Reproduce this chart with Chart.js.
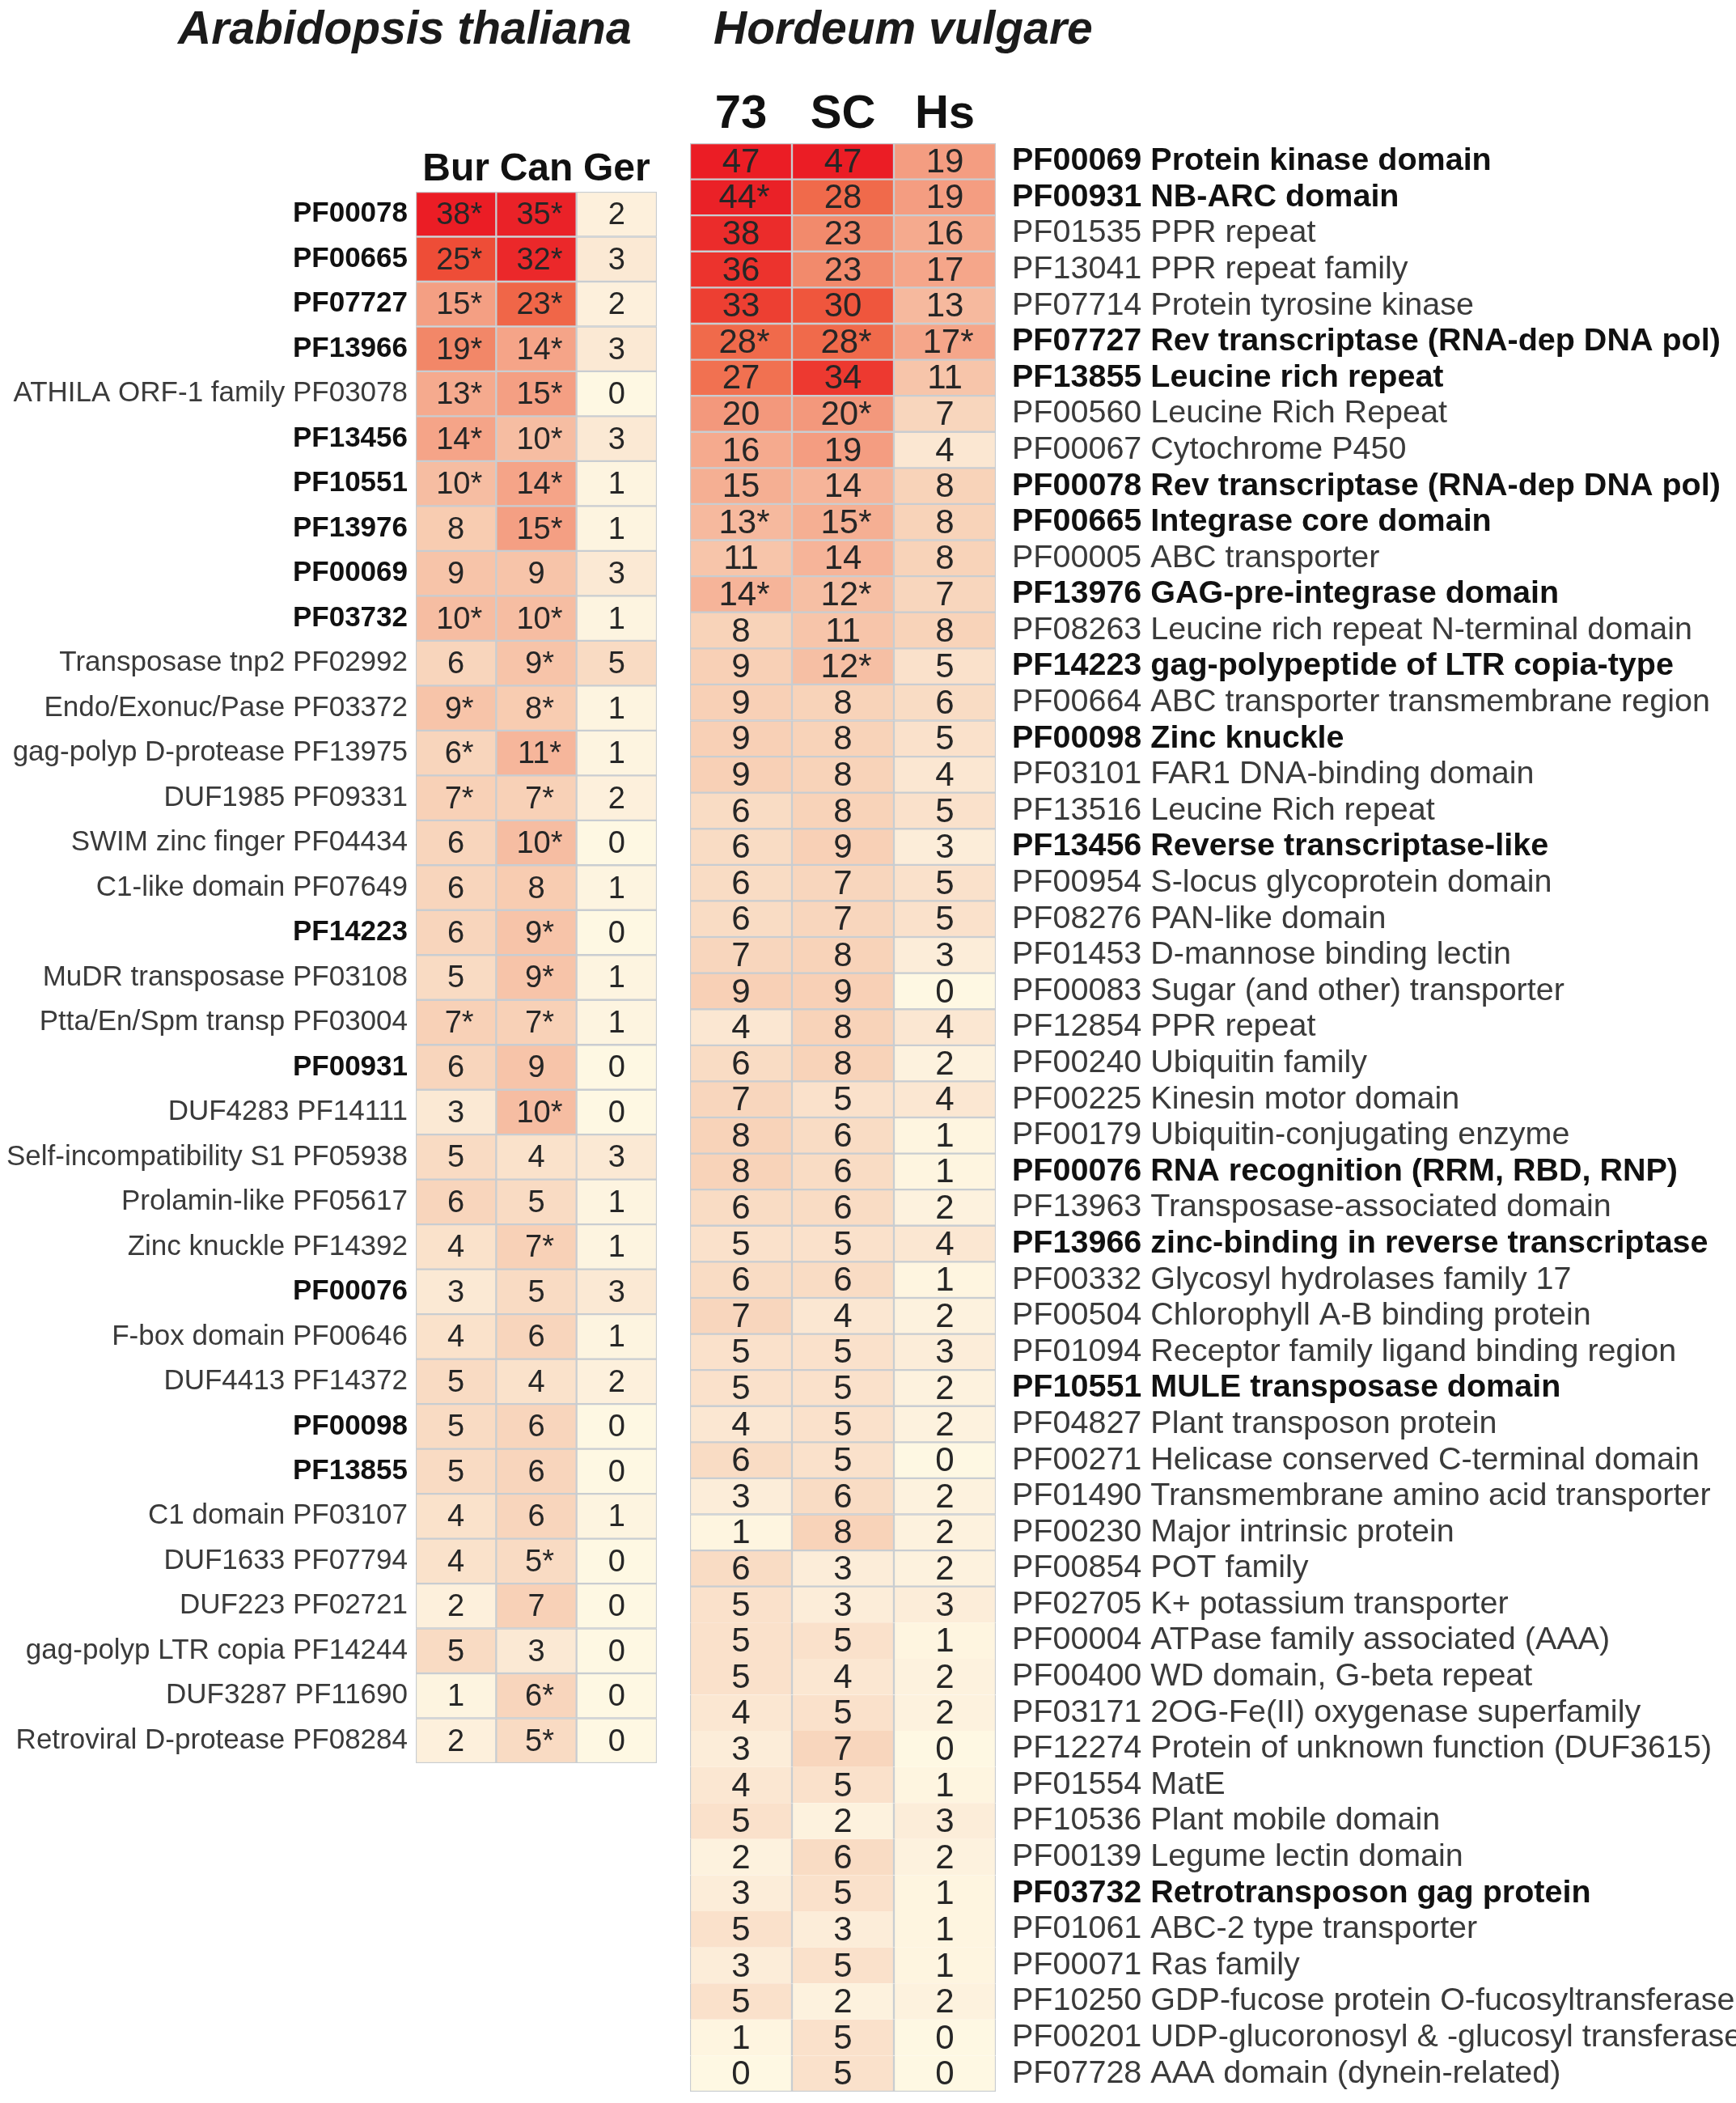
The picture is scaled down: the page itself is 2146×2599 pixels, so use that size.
<!DOCTYPE html>
<html>
<head>
<meta charset="utf-8">
<script src="https://cdn.jsdelivr.net/npm/chart.js@4.4.0/dist/chart.umd.min.js"></script>
<style>
    body { margin: 0; background: #fff; width: 2146px; height: 2599px; position: relative; overflow: hidden; }
    .title { position: absolute; top: 1px; line-height: 70px; font: italic bold 57px "Liberation Sans", Arial, sans-serif; color: #1b1b1b; white-space: nowrap; }
    #leftBox { position: absolute; left: 0; top: 150px; }
    #rightBox { position: absolute; left: 840px; top: 90px; }
</style>
</head>
<body>
<div class="title" style="left:220px">Arabidopsis thaliana</div>
<div class="title" style="left:882px">Hordeum vulgare</div>
<div id="leftBox"><canvas id="leftChart" width="830" height="2060"></canvas></div>
<div id="rightBox"><canvas id="rightChart" width="1306" height="2509"></canvas></div>

<script>
// Arabidopsis thaliana accessions
const atColumns = ['Bur', 'Can', 'Ger'];
const atLabels = [
    'PF00078', 'PF00665', 'PF07727', 'PF13966', 'ATHILA ORF-1 family PF03078',
    'PF13456', 'PF10551', 'PF13976', 'PF00069', 'PF03732',
    'Transposase tnp2 PF02992', 'Endo/Exonuc/Pase PF03372', 'gag-polyp D-protease PF13975', 'DUF1985 PF09331', 'SWIM zinc finger PF04434',
    'C1-like domain PF07649', 'PF14223', 'MuDR transposase PF03108', 'Ptta/En/Spm transp PF03004', 'PF00931',
    'DUF4283 PF14111', 'Self-incompatibility S1 PF05938', 'Prolamin-like PF05617', 'Zinc knuckle PF14392', 'PF00076',
    'F-box domain PF00646', 'DUF4413 PF14372', 'PF00098', 'PF13855', 'C1 domain PF03107',
    'DUF1633 PF07794', 'DUF223 PF02721', 'gag-polyp LTR copia PF14244', 'DUF3287 PF11690', 'Retroviral D-protease PF08284'
];
const atBold = [1,1,1,1,0, 1,1,1,1,1, 0,0,0,0,0, 0,1,0,0,1, 0,0,0,0,1, 0,0,1,1,0, 0,0,0,0,0];
const atBur = [38,25,15,19,13, 14,10,8,9,10, 6,9,6,7,6, 6,6,5,7,6, 3,5,6,4,3, 4,5,5,5,4, 4,2,5,1,2];
const atCan = [35,32,23,14,15, 10,14,15,9,10, 9,8,11,7,10, 8,9,9,7,9, 10,4,5,7,5, 6,4,6,6,6, 5,7,3,6,5];
const atGer = [2,3,2,3,0, 3,1,1,3,1, 5,1,1,2,0, 1,0,1,1,0, 0,3,1,1,3, 1,2,0,0,1, 0,0,0,0,0];
const atBurStar = [1,1,1,1,1, 1,1,0,0,1, 0,1,1,1,0, 0,0,0,1,0, 0,0,0,0,0, 0,0,0,0,0, 0,0,0,0,0];
const atCanStar = [1,1,1,1,1, 1,1,1,0,1, 1,1,1,1,1, 0,1,1,1,0, 1,0,0,1,0, 0,0,0,0,0, 1,0,0,1,1];
const atGerStar = [0,0,0,0,0, 0,0,0,0,0, 0,0,0,0,0, 0,0,0,0,0, 0,0,0,0,0, 0,0,0,0,0, 0,0,0,0,0];

// Hordeum vulgare lines
const hvColumns = ['73', 'SC', 'Hs'];
const hvLabels = [
    'PF00069 Protein kinase domain', 'PF00931 NB-ARC domain', 'PF01535 PPR repeat', 'PF13041 PPR repeat family',
    'PF07714 Protein tyrosine kinase', 'PF07727 Rev transcriptase (RNA-dep DNA pol)', 'PF13855 Leucine rich repeat',
    'PF00560 Leucine Rich Repeat', 'PF00067 Cytochrome P450', 'PF00078 Rev transcriptase (RNA-dep DNA pol)',
    'PF00665 Integrase core domain', 'PF00005 ABC transporter', 'PF13976 GAG-pre-integrase domain',
    'PF08263 Leucine rich repeat N-terminal domain', 'PF14223 gag-polypeptide of LTR copia-type',
    'PF00664 ABC transporter transmembrane region', 'PF00098 Zinc knuckle', 'PF03101 FAR1 DNA-binding domain',
    'PF13516 Leucine Rich repeat', 'PF13456 Reverse transcriptase-like', 'PF00954 S-locus glycoprotein domain',
    'PF08276 PAN-like domain', 'PF01453 D-mannose binding lectin', 'PF00083 Sugar (and other) transporter',
    'PF12854 PPR repeat', 'PF00240 Ubiquitin family', 'PF00225 Kinesin motor domain',
    'PF00179 Ubiquitin-conjugating enzyme', 'PF00076 RNA recognition (RRM, RBD, RNP)',
    'PF13963 Transposase-associated domain', 'PF13966 zinc-binding in reverse transcriptase',
    'PF00332 Glycosyl hydrolases family 17', 'PF00504 Chlorophyll A-B binding protein',
    'PF01094 Receptor family ligand binding region', 'PF10551 MULE transposase domain',
    'PF04827 Plant transposon protein', 'PF00271 Helicase conserved C-terminal domain',
    'PF01490 Transmembrane amino acid transporter', 'PF00230 Major intrinsic protein', 'PF00854 POT family',
    'PF02705 K+ potassium transporter', 'PF00004 ATPase family associated (AAA)', 'PF00400 WD domain, G-beta repeat',
    'PF03171 2OG-Fe(II) oxygenase superfamily', 'PF12274 Protein of unknown function (DUF3615)', 'PF01554 MatE',
    'PF10536 Plant mobile domain', 'PF00139 Legume lectin domain', 'PF03732 Retrotransposon gag protein',
    'PF01061 ABC-2 type transporter', 'PF00071 Ras family', 'PF10250 GDP-fucose protein O-fucosyltransferase',
    'PF00201 UDP-glucoronosyl & -glucosyl transferase', 'PF07728 AAA domain (dynein-related)'
];
const hvBold = [1,1,0,0,0, 1,1,0,0,1, 1,0,1,0,1, 0,1,0,0,1, 0,0,0,0,0, 0,0,0,1,0, 1,0,0,0,1, 0,0,0,0,0, 0,0,0,0,0, 0,0,0,1,0, 0,0,0,0];
const hv73 = [47,44,38,36,33, 28,27,20,16,15, 13,11,14,8,9, 9,9,9,6,6, 6,6,7,9,4, 6,7,8,8,6, 5,6,7,5,5, 4,6,3,1,6, 5,5,5,4,3, 4,5,2,3,5, 3,5,1,0];
const hvSC = [47,28,23,23,30, 28,34,20,19,14, 15,14,12,11,12, 8,8,8,8,9, 7,7,8,9,8, 8,5,6,6,6, 5,6,4,5,5, 5,5,6,8,3, 3,5,4,5,7, 5,2,6,5,3, 5,2,5,5];
const hvHs = [19,19,16,17,13, 17,11,7,4,8, 8,8,7,8,5, 6,5,4,5,3, 5,5,3,0,4, 2,4,1,1,2, 4,1,2,3,2, 2,0,2,2,2, 3,1,2,2,0, 1,3,2,1,1, 1,2,0,0];
const hv73Star = [0,1,0,0,0, 1,0,0,0,0, 1,0,1,0,0, 0,0,0,0,0, 0,0,0,0,0, 0,0,0,0,0, 0,0,0,0,0, 0,0,0,0,0, 0,0,0,0,0, 0,0,0,0,0, 0,0,0,0];
const hvSCStar = [0,0,0,0,0, 1,0,1,0,0, 1,0,1,0,1, 0,0,0,0,0, 0,0,0,0,0, 0,0,0,0,0, 0,0,0,0,0, 0,0,0,0,0, 0,0,0,0,0, 0,0,0,0,0, 0,0,0,0];
const hvHsStar = [0,0,0,0,0, 1,0,0,0,0, 0,0,0,0,0, 0,0,0,0,0, 0,0,0,0,0, 0,0,0,0,0, 0,0,0,0,0, 0,0,0,0,0, 0,0,0,0,0, 0,0,0,0,0, 0,0,0,0];

// cream -> red colour ramp, position is value / max of the panel
const heatStops = [
    [0.00, '#fef8e3'], [0.05, '#fdf1dd'], [0.10, '#fae3cd'], [0.15, '#f8d6bd'],
    [0.20, '#f8cfb4'], [0.27, '#f6bba0'], [0.34, '#f5aa8e'], [0.40, '#f49e82'],
    [0.48, '#f28c6f'], [0.55, '#f17a58'], [0.60, '#f0684a'], [0.66, '#ee4c36'],
    [0.72, '#ed3a30'], [0.82, '#eb2a2a'], [0.92, '#ea2228'], [1.00, '#eb1d25']
];

function hexToRgb(hex) {
    const n = parseInt(hex.slice(1), 16);
    return [(n >> 16) & 255, (n >> 8) & 255, n & 255];
}

function heatColor(value, max) {
    const f = Math.max(0, Math.min(1, value / max));
    for (let i = 1; i < heatStops.length; i++) {
        if (f <= heatStops[i][0]) {
            const [f0, c0] = heatStops[i - 1];
            const [f1, c1] = heatStops[i];
            const t = (f - f0) / (f1 - f0);
            const a = hexToRgb(c0), b = hexToRgb(c1);
            const rgb = a.map((v, k) => Math.round(v + (b[k] - v) * t));
            return `rgb(${rgb[0]}, ${rgb[1]}, ${rgb[2]})`;
        }
    }
    return heatStops[heatStops.length - 1][1];
}

// writes the count (and * when significant) in the middle of each cell
const cellText = {
    id: 'cellText',
    afterDatasetsDraw(chart, args, opts) {
        const ctx = chart.ctx;
        ctx.save();
        ctx.font = opts.font;
        ctx.fillStyle = '#262626';
        ctx.textAlign = 'center';
        ctx.textBaseline = 'middle';
        chart.data.datasets.forEach((ds, di) => {
            const meta = chart.getDatasetMeta(di);
            meta.data.forEach((bar, i) => {
                const p = bar.getProps(['x', 'y', 'base'], true);
                const text = ds.counts[i] + (ds.stars[i] ? '*' : '');
                ctx.fillText(text, (p.x + p.base) / 2 + (ds.stars[i] ? 4 : 0), p.y + 2);
            });
        });
        ctx.restore();
    }
};

function makeHeatmap(canvasId, cfg) {
    const max = Math.max(...cfg.series.flat());
    const gridColor = '#c9cdd1';
    const datasets = cfg.series.map((vals, c) => ({
        label: cfg.columns[c],
        data: vals.map(() => 1),
        counts: vals,
        stars: cfg.stars[c],
        backgroundColor: vals.map(v => heatColor(v, max)),
        borderColor: gridColor,
        borderWidth: (ctx) => {
            const i = ctx.dataIndex;
            const w = 1.5;
            if (cfg.openFrom == null || i < cfg.openFrom) return w;
            return { left: w, right: w, top: i === cfg.openFrom ? w : 0, bottom: i === cfg.labels.length - 1 ? w : 0 };
        },
        borderSkipped: false,
        barPercentage: 1,
        categoryPercentage: 1
    }));

    return new Chart(document.getElementById(canvasId), {
        type: 'bar',
        data: { labels: cfg.labels, datasets: datasets },
        plugins: [cellText],
        options: {
            indexAxis: 'y',
            responsive: false,
            animation: false,
            layout: { padding: cfg.padding },
            plugins: {
                legend: { display: false },
                tooltip: { enabled: false },
                cellText: { font: cfg.cellFont }
            },
            scales: {
                x: {
                    type: 'linear',
                    position: 'top',
                    stacked: true,
                    min: 0,
                    max: cfg.columns.length,
                    grid: { display: false, drawTicks: false },
                    border: { display: false },
                    afterBuildTicks: (axis) => {
                        axis.ticks = cfg.columns.map((c, i) => ({ value: i + 0.5 }));
                    },
                    afterFit: (axis) => {
                        axis.height = cfg.headHeight;
                        axis.paddingLeft = 0;
                        axis.paddingRight = 0;
                    },
                    ticks: {
                        padding: cfg.headPad,
                        color: '#111',
                        font: { family: '"Liberation Sans", Arial', size: cfg.headSize, weight: 'bold' },
                        callback: (value, index) => cfg.columns[index]
                    }
                },
                y: {
                    type: 'category',
                    position: cfg.labelSide,
                    stacked: true,
                    grid: { display: false, drawTicks: false },
                    border: { display: false },
                    afterFit: (axis) => {
                        axis.width = cfg.labelWidth;
                        axis.paddingTop = 0;
                        axis.paddingBottom = 0;
                    },
                    ticks: {
                        autoSkip: false,
                        padding: cfg.labelPad,
                        color: (ctx) => cfg.bold[ctx.index] ? '#111' : '#3a3a3a',
                        font: (ctx) => ({
                            family: cfg.labelFamily,
                            size: cfg.labelSize,
                            weight: cfg.bold[ctx.index] ? 'bold' : 'normal'
                        })
                    }
                }
            }
        }
    });
}

makeHeatmap('leftChart', {
    labels: atLabels,
    bold: atBold,
    columns: atColumns,
    series: [atBur, atCan, atGer],
    stars: [atBurStar, atCanStar, atGerStar],
    labelSide: 'left',
    labelWidth: 514,
    labelPad: 10,
    labelSize: 35,
    labelFamily: '"Liberation Sans", Arial',
    headHeight: 87,
    headPad: -2,
    headSize: 48,
    cellFont: '38px "Liberation Sans", Arial',
    padding: { left: 0, right: 18, top: 0, bottom: 31 }
});

makeHeatmap('rightChart', {
    labels: hvLabels,
    bold: hvBold,
    columns: hvColumns,
    series: [hv73, hvSC, hvHs],
    stars: [hv73Star, hvSCStar, hvHsStar],
    openFrom: 40,
    labelSide: 'right',
    labelWidth: 915,
    labelPad: 20,
    labelSize: 39.5,
    labelFamily: '"Liberation Sans", Arial',
    headHeight: 87,
    headPad: 0,
    headSize: 58,
    cellFont: '42px "Liberation Sans", Arial',
    padding: { left: 13, right: 0, top: 0, bottom: 14 }
});
</script>
</body>
</html>
